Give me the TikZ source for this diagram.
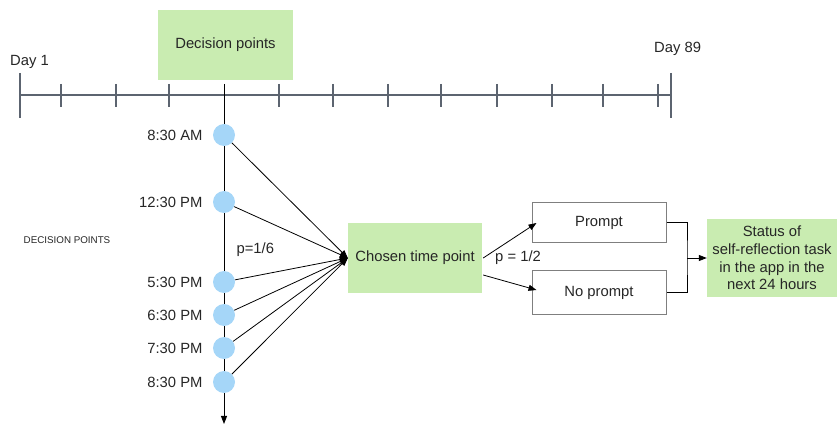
\documentclass[tikz,border=0pt]{standalone}
\usepackage{fontspec}
\setmainfont{Liberation Sans}
\usetikzlibrary{arrows.meta}
\definecolor{boxgreen}{HTML}{C9ECB1}
\definecolor{dotblue}{HTML}{A5D6F8}
\definecolor{axisgray}{HTML}{5C6470}
\definecolor{framegray}{HTML}{7F7F7F}
\definecolor{ink}{HTML}{262626}
\tikzset{
  every node/.style={font=\fontsize{14.8}{17.6}\selectfont, text=ink},
  greenbox/.style={fill=boxgreen, draw=none, inner sep=0pt, align=center},
  whitebox/.style={draw=framegray, line width=1pt, fill=white, inner sep=0pt},
  dot/.style={circle, fill=dotblue, draw=none, minimum size=22pt, inner sep=0pt},
  axis/.style={draw=axisgray, line width=1.2pt},
  tick/.style={draw=axisgray, line width=1.2pt},
  link/.style={draw=black, line width=0.8pt, -{Triangle[length=8pt,width=6pt]}},
  timelabel/.style={anchor=east}
}
\begin{document}
\begin{tikzpicture}[x=1pt, y=-1pt]
\useasboundingbox (0,0) rectangle (838,427);

% timeline from day 1 to day 89
\coordinate (tstart) at (20,95);
\coordinate (tend) at (671,95);
\draw[axis] (tstart) -- (tend);
\draw[tick] (20,73) -- (20,118);
\draw[tick] (671,73) -- (671,118);
\foreach \x in {61,116,169,279,333,388,441,497,552,603,658}
  \draw[tick] (\x,84) -- (\x,107);
\node[anchor=base west, inner sep=0pt] (day1) at (10,66) {Day 1};
\node[anchor=base west, inner sep=0pt] (day89) at (654,53) {Day 89};

% decision points box
\node[greenbox, minimum width=135pt, minimum height=70pt] (dp) at (225.5,45) {Decision points};

% decision times of one day
\coordinate (dtop) at (224,84);
\coordinate (dbot) at (224,424);
\draw[line width=1pt, -{Triangle[length=8pt,width=6pt]}] (dtop) -- (dbot);
\node[dot] (c1) at (224,135) {};
\node[dot] (c2) at (224,202) {};
\node[dot] (c3) at (224,282) {};
\node[dot] (c4) at (224,315) {};
\node[dot] (c5) at (224,348) {};
\node[dot] (c6) at (224,382) {};
\node[timelabel] (l1) at (206,135) {8:30 AM};
\node[timelabel] (l2) at (206,202) {12:30 PM};
\node[timelabel] (l3) at (206,282) {5:30 PM};
\node[timelabel] (l4) at (206,315) {6:30 PM};
\node[timelabel] (l5) at (206,348) {7:30 PM};
\node[timelabel] (l6) at (206,382) {8:30 PM};
\node[anchor=west] (p16) at (233,250) {p=1/6};
\node (dplabel) at (67,240) {\fontsize{9.8}{12}\selectfont DECISION POINTS};

% chosen time point
\node[greenbox, minimum width=134pt, minimum height=70pt] (chosen) at (415,258) {Chosen time point};
\foreach \c in {c1,c2,c3,c4,c5,c6}
  \draw[link] (\c) -- (chosen.west);

% randomisation to prompt / no prompt
\node[whitebox, minimum width=134pt, minimum height=40pt] (prompt) at (599,223) {Prompt};
\node[whitebox, minimum width=134pt, minimum height=44pt] (noprompt) at (599,293) {No prompt};
\node[anchor=west, inner sep=0pt] (p12) at (495,258) {p = 1/2};
\draw[link] ([xshift=1pt]chosen.east) -- ([xshift=5pt]prompt.west);
\draw[link] ([xshift=1pt,yshift=-17pt]chosen.east) -- ([xshift=5pt,yshift=3pt]noprompt.west);

% outcome
\node[greenbox, minimum width=130pt, minimum height=78pt] (status) at (772,258)
  {Status of\\self-reflection task\\in the app in the\\next 24 hours};
\coordinate (merge) at (687,258);
\draw[draw=black, line width=1pt] (prompt.east) -| (merge) |- (noprompt.east);
\draw[link] (merge) -- (status.west);
\end{tikzpicture}
\end{document}
